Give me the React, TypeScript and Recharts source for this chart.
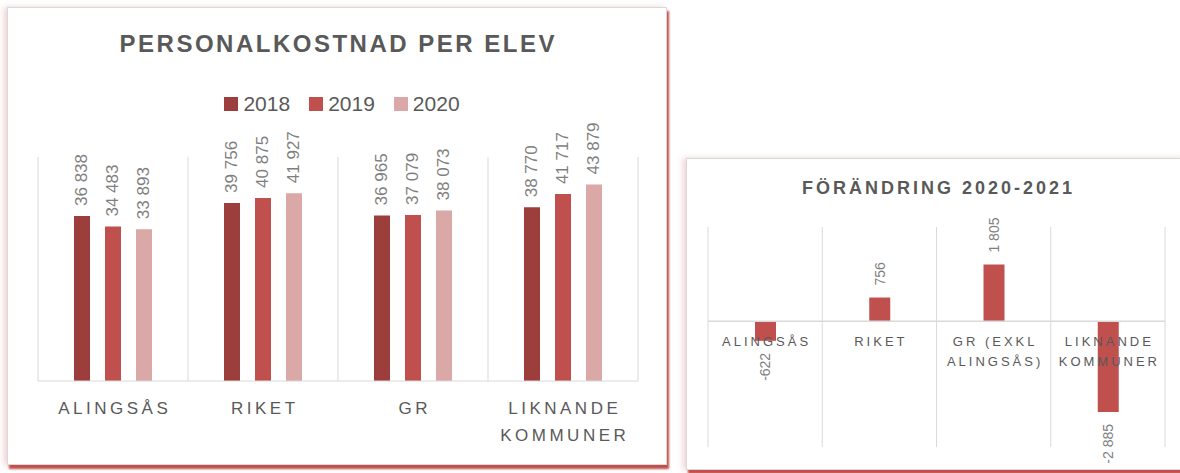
import React from "react";
import {
  BarChart,
  Bar,
  XAxis,
  YAxis,
  CartesianGrid,
  Legend,
  LabelList,
  ReferenceLine,
} from "recharts";

// Personalkostnad per elev
const categories = ["ALINGSÅS", "RIKET", "GR", "LIKNANDE\nKOMMUNER"];
const values2018 = [36838, 39756, 36965, 38770];
const values2019 = [34483, 40875, 37079, 41717];
const values2020 = [33893, 41927, 38073, 43879];

// Förändring 2020-2021
const changeCategories = ["ALINGSÅS", "RIKET", "GR (EXKL\nALINGSÅS)", "LIKNANDE\nKOMMUNER"];
const changeValues = [-622, 756, 1805, -2885];

const FONT = "'Liberation Sans', Arial, sans-serif";
const TEXT = "#595959";
const LABEL = "#7f7f7f";
const GRID = "#d9d9d9";

const series = [
  { key: "y2018", name: "2018", color: "#9b3e3c", values: values2018 },
  { key: "y2019", name: "2019", color: "#c0504d", values: values2019 },
  { key: "y2020", name: "2020", color: "#d9a8a7", values: values2020 },
];

const mainData = categories.map((name, i) => {
  const row: Record<string, string | number> = { name };
  series.forEach((s) => (row[s.key] = s.values[i]));
  return row;
});

const changeData = changeCategories.map((name, i) => ({ name, value: changeValues[i] }));

const fmt = (v: number) => {
  const s = Math.abs(v).toString().replace(/\B(?=(\d{3})+(?!\d))/g, " ");
  return (v < 0 ? "-" : "") + s;
};

const VerticalLabel = (props: any) => {
  const { x, y, width, height, value, gap, fontSize } = props;
  const cx = Number(x) + Number(width) / 2;
  const top = Math.min(Number(y), Number(y) + Number(height));
  const bottom = Math.max(Number(y), Number(y) + Number(height));
  const neg = Number(value) < 0;
  const ay = neg ? bottom + gap : top - gap;
  return (
    <text
      x={cx}
      y={ay}
      transform={`rotate(-90 ${cx} ${ay})`}
      textAnchor={neg ? "end" : "start"}
      dominantBaseline="central"
      fill={LABEL}
      fontSize={fontSize}
      fontFamily={FONT}
    >
      {fmt(Number(value))}
    </text>
  );
};

const CategoryTick = (props: any) => {
  const { x, y, payload, fontSize, spacing, lineHeight, dy } = props;
  const lines = String(payload.value).split("\n");
  return (
    <g>
      {lines.map((l: string, i: number) => (
        <text
          key={i}
          x={x + spacing / 2}
          y={y + dy + i * lineHeight}
          textAnchor="middle"
          dominantBaseline="central"
          fontSize={fontSize}
          letterSpacing={spacing}
          fill={TEXT}
          fontFamily={FONT}
        >
          {l}
        </text>
      ))}
    </g>
  );
};

const bandLines = (n: number) => ({ offset }: any) =>
  Array.from({ length: n + 1 }, (_, i) => offset.left + (i * offset.width) / n);

const LegendContent = (props: any) => {
  const { payload } = props;
  return (
    <div style={{ display: "flex", justifyContent: "center", gap: 19, fontFamily: FONT }}>
      {(payload || []).map((p: any) => (
        <span key={p.value} style={{ display: "flex", alignItems: "center" }}>
          <span style={{ width: 14, height: 14, background: p.color, marginRight: 5 }} />
          <span style={{ fontSize: 21, color: TEXT, lineHeight: "24px" }}>{p.value}</span>
        </span>
      ))}
    </div>
  );
};

const card = (left: number, top: number, width: number, height: number): React.CSSProperties => ({
  position: "absolute",
  left,
  top,
  width,
  height,
  background: "#fff",
  border: "1px solid #d9d9d9",
  boxSizing: "border-box",
  boxShadow: "2px 4px 2px #c0504d, -3px 0 6px rgba(192,80,77,0.25)",
});

const MAIN_W = 660;
const MAIN_H = 458;
const CH_W = 500;
const CH_H = 312;
const chMargin = { top: 69, right: 21, left: 22, bottom: 22 };
const chAxisH = 1;
const chDomain: [number, number] = [-4000, 3000];
const chPlotH = CH_H - chMargin.top - chMargin.bottom - chAxisH;
const chZero = (chPlotH * (0 - chDomain[0])) / (chDomain[1] - chDomain[0]);

export default function App() {
  return (
    <div style={{ position: "absolute", left: 0, top: 0, width: 1180, height: 473, overflow: "hidden", background: "#fff" }}>
      <div style={card(7, 7, MAIN_W, MAIN_H)}>
        <div
          style={{
            position: "absolute",
            left: 0,
            right: 0,
            top: 22,
            textAlign: "center",
            fontFamily: FONT,
            fontWeight: "bold",
            fontSize: 24,
            letterSpacing: 2.5,
            paddingLeft: 2.5,
            color: TEXT,
          }}
        >
          PERSONALKOSTNAD PER ELEV
        </div>
        <div style={{ position: "absolute", left: -1, top: -1 }}>
          <BarChart
            width={MAIN_W}
            height={MAIN_H}
            data={mainData}
            margin={{ top: 150, right: 29, left: 31, bottom: 24 }}
            barSize={16}
            barGap={15}
          >
            <CartesianGrid horizontal={false} stroke={GRID} verticalCoordinatesGenerator={bandLines(categories.length)} />
            <XAxis
              dataKey="name"
              interval={0}
              height={60}
              tickSize={0}
              tickMargin={0}
              axisLine={{ stroke: GRID }}
              tickLine={false}
              tick={<CategoryTick fontSize={17} spacing={3.5} lineHeight={27} dy={27} />}
            />
            <YAxis hide domain={[0, 50000]} />
            <Legend
              layout="horizontal"
              verticalAlign="middle"
              align="center"
              wrapperStyle={{ top: 85, left: 5, width: MAIN_W }}
              content={<LegendContent />}
            />
            {series.map((s) => (
              <Bar key={s.key} dataKey={s.key} name={s.name} fill={s.color} isAnimationActive={false}>
                <LabelList dataKey={s.key} content={(p: any) => <VerticalLabel {...p} gap={10} fontSize={17} />} />
              </Bar>
            ))}
          </BarChart>
        </div>
      </div>

      <div style={card(686, 158, CH_W, CH_H)}>
        <div
          style={{
            position: "absolute",
            left: 0,
            top: 19,
            width: 500,
            textAlign: "center",
            fontFamily: FONT,
            fontWeight: "bold",
            fontSize: 18,
            letterSpacing: 3,
            paddingLeft: 3,
            boxSizing: "border-box",
            color: TEXT,
          }}
        >
          FÖRÄNDRING 2020-2021
        </div>
        <div style={{ position: "absolute", left: -1, top: -1 }}>
          <BarChart width={CH_W} height={CH_H} data={changeData} margin={chMargin} barSize={21}>
            <CartesianGrid horizontal={false} stroke={GRID} verticalCoordinatesGenerator={bandLines(changeCategories.length)} />
            <YAxis hide domain={chDomain} />
            <ReferenceLine y={0} stroke={GRID} strokeWidth={1.5} />
            <Bar dataKey="value" fill="#c0504d" isAnimationActive={false}>
              <LabelList dataKey="value" content={(p: any) => <VerticalLabel {...p} gap={12} fontSize={14} />} />
            </Bar>
            <XAxis
              dataKey="name"
              interval={0}
              height={chAxisH}
              tickSize={0}
              tickMargin={0}
              axisLine={false}
              tickLine={false}
              tick={<CategoryTick fontSize={13} spacing={3} lineHeight={20} dy={-chZero + 20} />}
            />
          </BarChart>
        </div>
      </div>
    </div>
  );
}
